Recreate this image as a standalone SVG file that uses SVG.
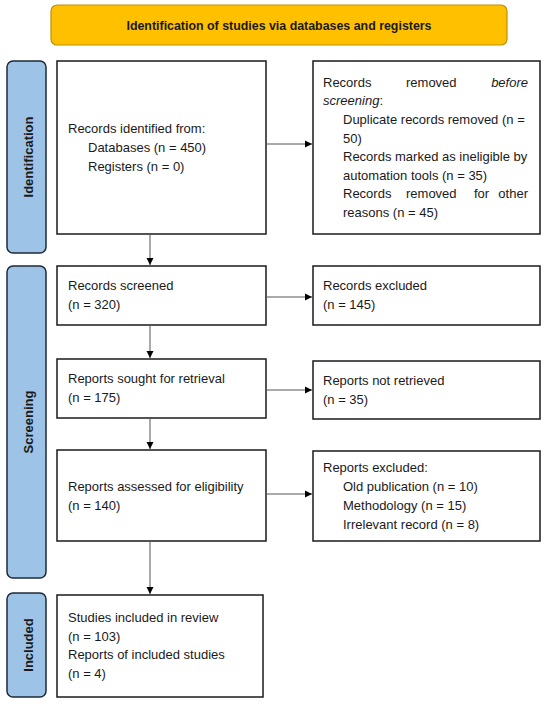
<svg xmlns="http://www.w3.org/2000/svg" width="550" height="704" viewBox="0 0 550 704">
<style>
text{font-family:"Liberation Sans",Arial,sans-serif;font-size:13px;fill:#1a1a1a}
.b{font-weight:bold}
.box{fill:#fff;stroke:#1a1a1a;stroke-width:1.5}
.side{fill:#9DC3E6;stroke:#1f2a36;stroke-width:1.5}
.con{stroke:#555;stroke-width:1;fill:none}
</style>
<defs>
<marker id="ah" markerWidth="8" markerHeight="8" refX="7" refY="4" orient="auto" markerUnits="userSpaceOnUse">
<path d="M0,0.5 L7,4 L0,7.5 Z" fill="#000"/>
</marker>
</defs>
<rect width="550" height="704" fill="#fff"/>

<g id="banner">
<rect x="51" y="5" width="456" height="40" rx="6" fill="#FFC000" stroke="#BF9000" stroke-width="1.2"/>
<text class="b" x="279" y="30" text-anchor="middle" style="font-size:12.4px">Identification of studies via databases and registers</text>
</g>

<g id="side-identification">
<rect class="side" x="7" y="61" width="39" height="192" rx="6"/>
<text class="b" transform="translate(32.5,157) rotate(-90)" text-anchor="middle">Identification</text>
</g>
<g id="side-screening">
<rect class="side" x="7" y="266" width="39" height="312" rx="6"/>
<text class="b" transform="translate(32.5,422) rotate(-90)" text-anchor="middle">Screening</text>
</g>
<g id="side-included">
<rect class="side" x="7" y="593" width="39" height="104" rx="6"/>
<text class="b" transform="translate(32.5,645) rotate(-90)" text-anchor="middle">Included</text>
</g>

<g id="identified">
<rect class="box" x="57" y="61" width="209" height="173"/>
<text x="68" y="133">Records identified from:</text>
<text x="88" y="152">Databases (n = 450)</text>
<text x="88" y="171">Registers (n = 0)</text>
</g>

<g id="removed">
<rect class="box" x="313" y="61" width="227" height="173"/>
<text x="323" y="86.7">Records</text>
<text x="406" y="86.7">removed</text>
<text x="528" y="86.7" text-anchor="end" font-style="italic">before</text>
<text x="323" y="105.3"><tspan font-style="italic">screening</tspan>:</text>
<text x="343" y="123.9">Duplicate records removed (n =</text>
<text x="343" y="142.5">50)</text>
<text x="343" y="161.1">Records marked as ineligible by</text>
<text x="343" y="179.7">automation tools (n = 35)</text>
<text x="343" y="198.3">Records</text>
<text x="406" y="198.3">removed</text>
<text x="474" y="198.3">for</text>
<text x="528" y="198.3" text-anchor="end">other</text>
<text x="343" y="216.9">reasons (n = 45)</text>
</g>

<g id="screened">
<rect class="box" x="57" y="266" width="209" height="59"/>
<text x="68" y="290">Records screened</text>
<text x="68" y="309">(n = 320)</text>
</g>
<g id="excluded">
<rect class="box" x="313" y="266" width="227" height="59"/>
<text x="323" y="290">Records excluded</text>
<text x="323" y="309">(n = 145)</text>
</g>

<g id="sought">
<rect class="box" x="57" y="359" width="209" height="59"/>
<text x="68" y="383">Reports sought for retrieval</text>
<text x="68" y="402">(n = 175)</text>
</g>
<g id="notretrieved">
<rect class="box" x="313" y="361" width="227" height="58"/>
<text x="323" y="384.5">Reports not retrieved</text>
<text x="323" y="403.5">(n = 35)</text>
</g>

<g id="assessed">
<rect class="box" x="57" y="450" width="209" height="91"/>
<text x="68" y="491">Reports assessed for eligibility</text>
<text x="68" y="510">(n = 140)</text>
</g>
<g id="reportsexcluded">
<rect class="box" x="313" y="451" width="227" height="90"/>
<text x="323" y="472">Reports excluded:</text>
<text x="343" y="491">Old publication (n = 10)</text>
<text x="343" y="510">Methodology (n = 15)</text>
<text x="343" y="529">Irrelevant record (n = 8)</text>
</g>

<g id="includedbox">
<rect class="box" x="57" y="595" width="206" height="102"/>
<text x="68" y="622">Studies included in review</text>
<text x="68" y="641">(n = 103)</text>
<text x="68" y="659">Reports of included studies</text>
<text x="68" y="678">(n = 4)</text>
</g>

<g id="connectors">
<line class="con" x1="266" y1="144" x2="312" y2="144" marker-end="url(#ah)"/>
<line class="con" x1="150" y1="234" x2="150" y2="265" marker-end="url(#ah)"/>
<line class="con" x1="266" y1="297" x2="312" y2="297" marker-end="url(#ah)"/>
<line class="con" x1="150" y1="325" x2="150" y2="358" marker-end="url(#ah)"/>
<line class="con" x1="266" y1="390" x2="312" y2="390" marker-end="url(#ah)"/>
<line class="con" x1="150" y1="418" x2="150" y2="449" marker-end="url(#ah)"/>
<line class="con" x1="266" y1="494" x2="312" y2="494" marker-end="url(#ah)"/>
<line class="con" x1="150" y1="541" x2="150" y2="594" marker-end="url(#ah)"/>
</g>
</svg>
